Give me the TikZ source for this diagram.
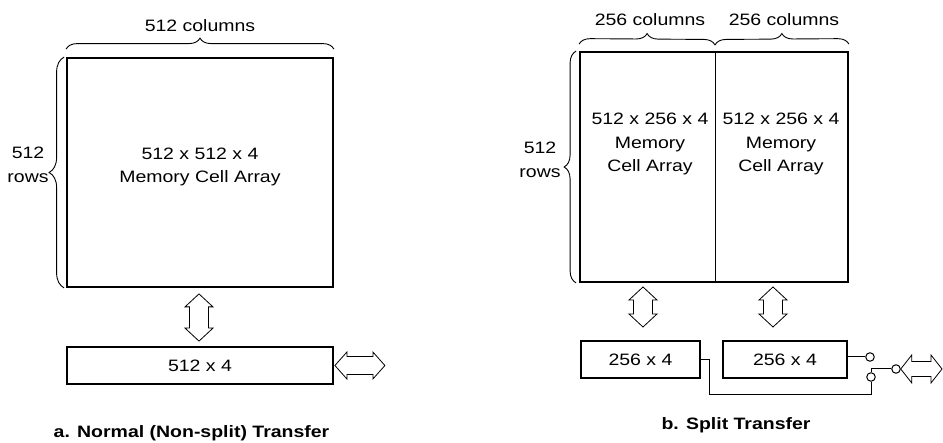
\documentclass[tikz,border=0pt]{standalone}
\usepackage{fontspec}
\setmainfont{Liberation Sans}[FakeStretch=1.18]
\usepackage{tikz}
\usetikzlibrary{positioning,decorations.pathreplacing,calc}

\tikzset{
  membox/.style={draw=black, line width=1.8pt, inner sep=0pt},
  regbox/.style={draw=black, line width=1.8pt, inner sep=0pt, font=\fontsize{16.5}{20}\selectfont},
  bus/.style={draw=black, line width=0.8pt, line join=miter},
  wire/.style={draw=black, line width=1pt},
  brc/.style={draw=black, line width=0.9pt, decorate, decoration={brace, amplitude=#1}},
  term/.style={circle, draw=black, line width=1pt, inner sep=0pt, minimum size=8.5pt},
  lbl/.style={font=\fontsize{16.5}{23.5}\selectfont, align=center, inner sep=0pt},
  captext/.style={font=\fontsize{16.5}{20}\selectfont\bfseries, inner sep=0pt}
}

\newcommand{\vbus}[2]{\draw[bus] (#1) -- ($(#1)+(14,13)$) -- ($(#1)+(9.5,13)$) -- ($(#2)+(9.5,-13)$) -- ($(#2)+(14,-13)$) -- (#2) -- ($(#2)+(-14,-13)$) -- ($(#2)+(-9.5,-13)$) -- ($(#1)+(-9.5,13)$) -- ($(#1)+(-14,13)$) -- cycle;}
\newcommand{\hbus}[5]{\draw[bus] (#1) -- ($(#1)+(#3,-#4)$) -- ($(#1)+(#3,-#5)$) -- ($(#2)+(-#3,-#5)$) -- ($(#2)+(-#3,-#4)$) -- (#2) -- ($(#2)+(-#3,#4)$) -- ($(#2)+(-#3,#5)$) -- ($(#1)+(#3,#5)$) -- ($(#1)+(#3,#4)$) -- cycle;}

\begin{document}
\begin{tikzpicture}[x=1pt, y=-1pt]
\useasboundingbox (0,0) rectangle (943,443);

\node[membox, minimum width=266, minimum height=229] (arrA) at (200,172.5) {};
\node[lbl] (txtA) at (200,167) {512 x 512 x 4\\Memory Cell Array};
\node[regbox, minimum width=266, minimum height=37] (regA) at (200,365.5) {512 x 4};
\draw[brc=11pt] ($(arrA.north west)+(0,-8)$) -- ($(arrA.north east)+(0,-8)$);
\node[lbl] (colA) at (200,26) {512 columns};
\draw[brc=15pt] ($(arrA.south west)+(-2,0)$) -- ($(arrA.north west)+(-2,0)$);
\node[lbl] (rowA) at (28,165) {512\\rows};
\coordinate (busAtop) at ($(arrA.south)+(-1,6)$);
\coordinate (busAbot) at ($(regA.north)+(-1,-5)$);
\vbus{busAtop}{busAbot}
\coordinate (ioAl) at ($(regA.east)+(1,0)$);
\coordinate (ioAr) at ($(regA.east)+(51,0)$);
\hbus{ioAl}{ioAr}{12}{13.5}{9}
\node[captext] (capA) at (191.5,433) {a. Normal (Non-split) Transfer};

\node[membox, minimum width=268, minimum height=230] (arrB) at (714,167) {};
\coordinate (midB) at (715,52);
\draw[wire] (midB) -- (midB |- arrB.south);
\node[lbl] (txtBl) at (650,144) {512 x 256 x 4\\Memory\\Cell Array};
\node[lbl] (txtBr) at (781,144) {512 x 256 x 4\\Memory\\Cell Array};
\draw[brc=11pt] ($(arrB.north west)+(0,-7)$) -- ($(midB)+(0,-7)$);
\draw[brc=11pt] ($(midB)+(0,-7)$) -- ($(arrB.north east)+(0,-7)$);
\node[lbl] (colBl) at (650,20) {256 columns};
\node[lbl] (colBr) at (784,20) {256 columns};
\draw[brc=12pt] ($(arrB.south west)+(-3,0)$) -- ($(arrB.north west)+(-3,0)$);
\node[lbl] (rowB) at (540,160) {512\\rows};

\node[regbox, minimum width=119, minimum height=37] (regL) at (640.5,359.5) {256 x 4};
\node[regbox, minimum width=124, minimum height=37] (regR) at (785,359.5) {256 x 4};
\coordinate (busLtop) at (643,287);
\coordinate (busLbot) at (643,327);
\vbus{busLtop}{busLbot}
\coordinate (busRtop) at (773,287);
\coordinate (busRbot) at (773,327);
\vbus{busRtop}{busRbot}

\node[term] (up) at (870,357) {};
\node[term] (lo) at (871,377) {};
\node[term] (pole) at (896,369) {};
\draw[wire] (up -| regR.east) -- (up.west);
\draw[wire] (regL.east) -- ++(9,0) -- ++(0,35) -| (lo.south);
\draw[wire] (pole.west) -- (pole.west -| lo.north) -- (lo.north);
\coordinate (ioBl) at (pole.east);
\coordinate (ioBr) at (942,369);
\hbus{ioBl}{ioBr}{11}{14}{7.5}
\node[captext] (capB) at (736,425) {b. Split Transfer};
\end{tikzpicture}
\end{document}
